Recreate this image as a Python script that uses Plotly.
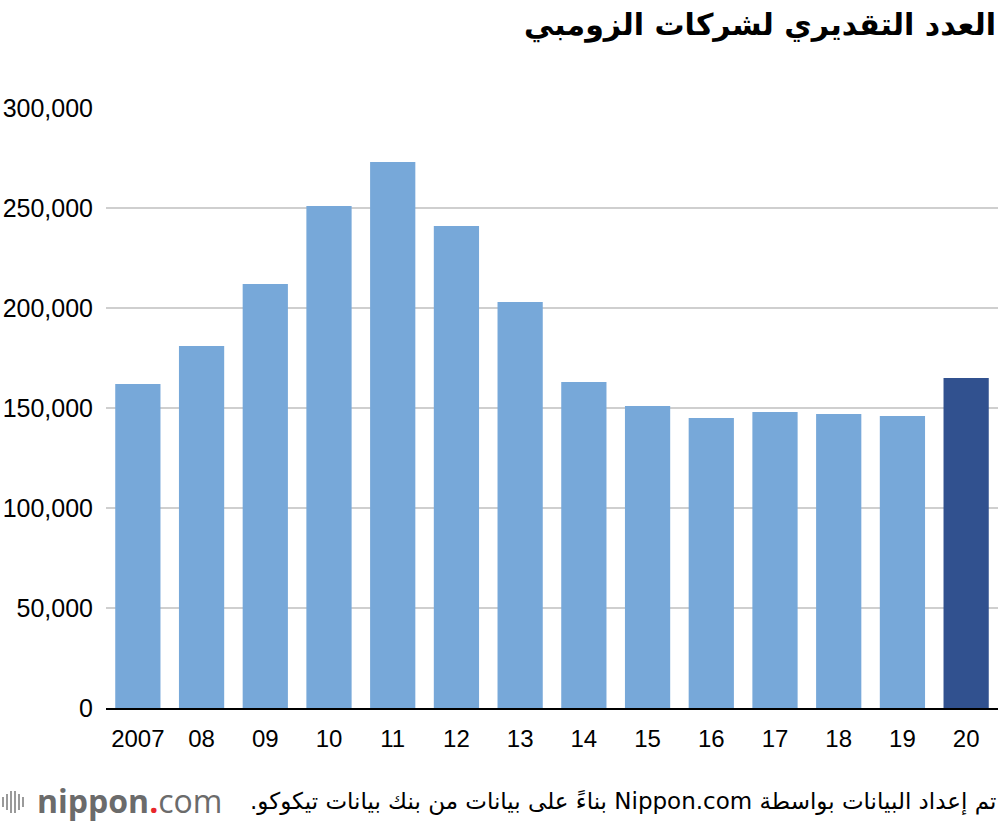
import plotly.graph_objects as go

years = ["2007", "08", "09", "10", "11", "12", "13", "14", "15", "16", "17", "18", "19", "20"]
counts = [162000, 181000, 212000, 251000, 273000, 241000, 203000, 163000, 151000, 145000, 148000, 147000, 146000, 165000]
light = "#77a8d9"
dark = "#31518f"
colors = [light] * (len(years) - 1) + [dark]

title = "العدد التقديري لشركات الزومبي"
caption = "تم إعداد البيانات بواسطة Nippon.com بناءً على بيانات من بنك بيانات تيكوكو."

RLE, PDF = "\u202B", "\u202C"

fig = go.Figure(go.Bar(x=years, y=counts, marker=dict(color=colors, line=dict(width=0)),
                       hoverinfo="x+y"))

fig.update_layout(
    width=1000, height=824,
    margin=dict(l=106, r=2, t=108, b=116),
    paper_bgcolor="white", plot_bgcolor="white",
    bargap=0.29,
    showlegend=False,
    font=dict(family="Liberation Sans, Arial, sans-serif", color="black"),
)
fig.update_xaxes(type="category", showline=True, linecolor="black", linewidth=2,
                 ticks="", tickfont=dict(size=24, color="black"), ticklabelstandoff=8,
                 showgrid=False)
fig.update_yaxes(range=[0, 300000], tickvals=[0, 50000, 100000, 150000, 200000, 250000, 300000],
                 tickformat=",", showgrid=True, gridcolor="#cfcfcf", gridwidth=2,
                 zeroline=False, tickfont=dict(size=25, color="black"), ticklabelstandoff=12)


def py(p):
    return (708 - p) / 600


def px(p):
    return (p - 106) / 892


fig.add_annotation(text="<b>" + RLE + title + PDF + "</b>", xref="paper", yref="paper",
                   x=px(998), y=py(25), xanchor="right", yanchor="middle",
                   showarrow=False, font=dict(family="DejaVu Sans", size=30, color="black"))

fig.add_annotation(text=RLE + caption + PDF, xref="paper", yref="paper", x=px(998), y=py(801),
                   xanchor="right", yanchor="middle", showarrow=False,
                   font=dict(family="DejaVu Sans", size=23, color="black"))

fig.add_annotation(text="<b>nippon</b><span style='color:#e8262b'><b>.</b></span>com",
                   xref="paper", yref="paper", x=px(35), y=py(800),
                   xanchor="left", yanchor="middle", showarrow=False,
                   font=dict(family="Open Sans", size=32, color="#6b6b6b"))

# small logo icon: vertical bars
bar_xs = [3, 7, 11, 15, 19, 23]
bar_hs = [10, 16, 22, 22, 16, 10]
for bx, bh in zip(bar_xs, bar_hs):
    fig.add_shape(type="line", xref="paper", yref="paper",
                  x0=px(bx), x1=px(bx),
                  y0=py(802 - bh / 2), y1=py(802 + bh / 2),
                  line=dict(color="#9a9a9a", width=2))

fig.write_html("out.html", config={"displayModeBar": False},
               post_script="document.body.style.margin='0';")
